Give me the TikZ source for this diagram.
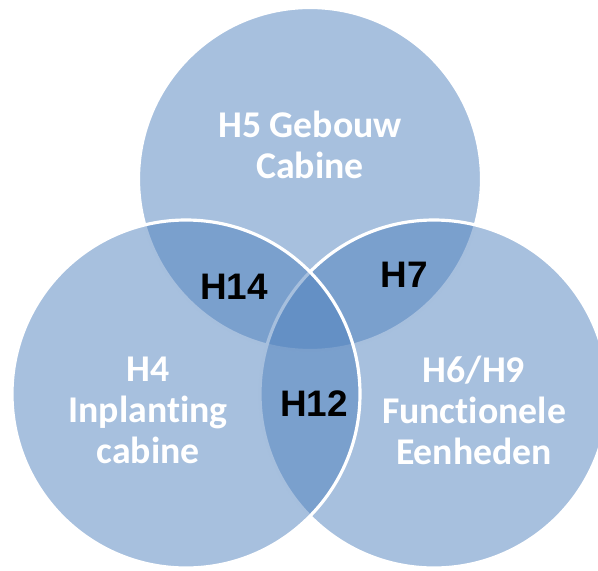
\documentclass[tikz,border=0pt]{standalone}
\usepackage{fontspec}
\usepackage{xcolor}
\usepackage{tikz}
\newfontfamily\calfont[Ligatures=NoCommon]{Carlito}
\newfontfamily\arfont{Liberation Sans}
\definecolor{vennblue}{HTML}{4F81BD}

\begin{document}
\begin{tikzpicture}[
	ring/.style={fill=vennblue,fill opacity=0.5,draw=white,draw opacity=1,line width=1.8pt},
	bigtxt/.style={text=white,align=center,font=\calfont\bfseries\fontsize{21.5}{23.3}\selectfont},
	meet/.style={text=black,font=\arfont\bfseries\fontsize{21}{24}\selectfont}]
	\useasboundingbox (0,0) rectangle (11.96,11.4);
	\clip (0,0) rectangle (11.96,11.4);
	\draw[ring] (6.2,7.82) circle (3.43);
	\draw[ring] (8.68,3.52) circle (3.48);
	\draw[ring] (3.72,3.52) circle (3.48);
	\node[bigtxt] (gebouw) at (6.2,8.5) {H5 Gebouw\\Cabine};
	\node[bigtxt] (inplanting) at (2.96,3.2) {H4\\Inplanting\\cabine};
	\node[bigtxt] (eenheden) at (9.48,3.2) {H6/H9\\Functionele\\Eenheden};
	\node[meet] (h14) at (4.68,5.66) {H14};
	\node[meet] (h7) at (8.08,5.9) {H7};
	\node[meet] (h12) at (6.28,3.32) {H12};
\end{tikzpicture}
\end{document}
